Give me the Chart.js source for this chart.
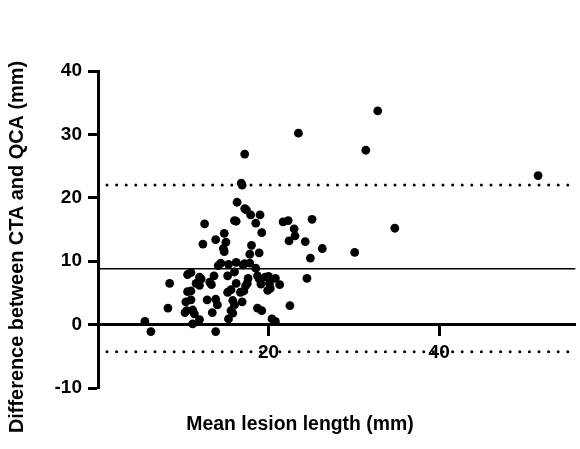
<!DOCTYPE html>
<html>
<head>
<meta charset="utf-8">
<script src="https://cdn.jsdelivr.net/npm/chart.js@4.4.1/dist/chart.umd.min.js"></script>
<style>
  html, body { margin: 0; padding: 0; background: #fff; }
  #wrap { width: 580px; height: 449px; }
</style>
</head>
<body>
<div id="wrap"><canvas id="blandAltman"></canvas></div>
<script>
// Mean of the two lesion lengths (mm), one entry per lesion
const meanLength = [
  5.5, 6.2, 8.2, 8.4, 10.2, 10.4, 10.3, 10.9, 10.5, 10.9,
  10.5, 10.9, 11.1, 11.3, 11.1, 11.9, 11.5, 11.9, 11.9, 12.1,
  12.3, 12.5, 12.8, 13.1, 13.3, 13.4, 13.6, 13.8, 13.8, 13.8,
  14.0, 14.1, 14.4, 14.7, 14.8, 14.8, 15.0, 15.2, 15.2, 15.3,
  15.3, 15.6, 15.6, 15.8, 15.8, 16.0, 16.0, 16.0, 16.2, 16.2,
  16.2, 16.3, 16.7, 16.9, 16.9, 16.8, 17.0, 17.1, 17.2, 17.2,
  17.2, 17.4, 17.3, 17.5, 17.6, 17.8, 17.8, 17.9, 18.0, 18.5,
  18.5, 18.7, 18.9, 18.9, 18.7, 19.0, 19.1, 19.2, 19.2, 19.6,
  19.9, 20.0, 20.1, 20.2, 20.4, 20.8, 20.8, 21.3, 21.7, 22.3,
  22.4, 22.5, 23.0, 23.1, 23.5, 24.3, 24.5, 24.9, 25.1, 26.3,
  30.1, 31.4, 32.8, 34.8, 51.6
];
// CTA minus QCA (mm), same order
const difference = [
  0.5, -1.1, 2.6, 6.5, 1.9, 2.2, 3.6, 3.9, 5.2, 5.3,
  7.9, 8.2, 2.3, 1.7, 0.1, 0.8, 6.5, 6.2, 7.5, 7.2,
  12.7, 15.9, 3.9, 6.7, 6.3, 1.9, 7.7, 4.0, 13.4, -1.1,
  3.1, 9.3, 9.7, 12.0, 11.5, 14.4, 13.0, 7.7, 5.1, 9.5,
  0.9, 5.5, 2.2, 1.8, 3.8, 3.1, 8.3, 16.4, 16.3, 9.8,
  6.5, 19.3, 5.1, 3.6, 22.0, 22.3, 9.4, 5.3, 9.6, 26.9,
  18.3, 18.1, 6.1, 6.5, 7.3, 9.7, 11.1, 17.3, 12.5, 16.0,
  8.9, 7.7, 7.2, 11.3, 2.6, 17.3, 6.4, 14.5, 2.2, 7.5,
  5.4, 7.6, 6.5, 5.7, 0.9, 0.5, 7.3, 6.3, 16.2, 16.4,
  13.2, 3.0, 15.1, 14.0, 30.2, 13.1, 7.3, 10.5, 16.6, 12.0,
  11.4, 27.5, 33.7, 15.2, 23.5
];

// bias and 95% limits of agreement
const bias = 8.8;
const upperLimit = 22.0;
const lowerLimit = -4.3;

const xRange = [0, 56];
const yRange = [-10, 40];
const xTickValues = [20, 40];

const xTitle = "Mean lesion length (mm)";
const yTitle = "Difference between CTA and QCA (mm)";

const points = meanLength.map((m, i) => ({ x: m, y: difference[i] }));

function hLine(value) {
  return [
    { x: xRange[0], y: value },
    { x: xRange[1], y: value },
  ];
}

const fontFamily = "'Liberation Sans', Arial, sans-serif";

// draws the two axis titles outside the plot
const axisTitles = {
  id: "axisTitles",
  afterDraw(chart) {
    const c = chart.ctx;
    c.save();
    c.fillStyle = "#000";
    c.textAlign = "center";
    c.textBaseline = "middle";
    c.font = "bold 19.4px " + fontFamily;
    c.fillText(xTitle, 300, 425);
    c.translate(18, 247);
    c.rotate(-Math.PI / 2);
    c.font = "bold 19.9px " + fontFamily;
    c.fillText(yTitle, 0, 0);
    c.restore();
  },
};

const tickFont = { family: fontFamily, size: 19, weight: "bold" };

new Chart(document.getElementById("blandAltman"), {
  type: "scatter",
  data: {
    datasets: [
      {
        data: points,
        backgroundColor: "#000",
        borderWidth: 0,
        pointRadius: 4.4,
      },
      {
        type: "line",
        data: hLine(bias),
        borderColor: "#000",
        borderWidth: 1.5,
        pointRadius: 0,
      },
      {
        type: "line",
        data: hLine(upperLimit),
        borderColor: "#000",
        borderWidth: 3,
        borderDash: [0, 9.6],
        borderDashOffset: 0.6,
        borderCapStyle: "round",
        pointRadius: 0,
      },
      {
        type: "line",
        data: hLine(lowerLimit),
        borderColor: "#000",
        borderWidth: 3,
        borderDash: [0, 9.6],
        borderDashOffset: 0.6,
        borderCapStyle: "round",
        pointRadius: 0,
      },
    ],
  },
  options: {
    responsive: true,
    maintainAspectRatio: false,
    animation: false,
    layout: { padding: { top: 71, bottom: 61, left: 0, right: 0 } },
    plugins: {
      legend: { display: false },
      tooltip: { enabled: false },
    },
    scales: {
      x: {
        type: "linear",
        min: xRange[0],
        max: xRange[1],
        position: { y: 0 },
        afterBuildTicks: (scale) => {
          scale.ticks = xTickValues.map((v) => ({ value: v }));
        },
        grid: {
          drawOnChartArea: false,
          drawTicks: true,
          tickLength: 10,
          tickColor: "#000",
          tickWidth: 3,
        },
        border: { display: true, color: "#000", width: 3 },
        ticks: { color: "#000", font: tickFont, padding: 7, maxRotation: 0 },
      },
      y: {
        type: "linear",
        min: yRange[0],
        max: yRange[1],
        afterFit: (scale) => {
          scale.width = 98;
        },
        grid: {
          drawOnChartArea: false,
          drawTicks: true,
          tickLength: 10,
          tickColor: "#000",
          tickWidth: 3,
        },
        border: { display: true, color: "#000", width: 3 },
        ticks: { stepSize: 10, color: "#000", font: tickFont, padding: 6 },
      },
    },
  },
  plugins: [axisTitles],
});
</script>
</body>
</html>
